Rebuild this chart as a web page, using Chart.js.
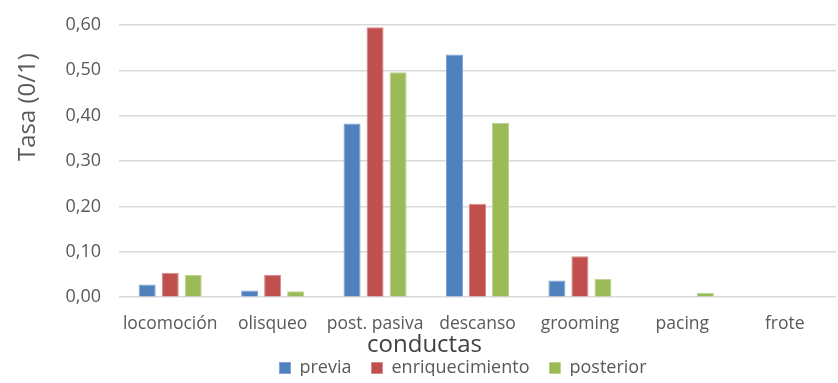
<!DOCTYPE html>
<html>
<head>
<meta charset="utf-8">
<script src="https://cdn.jsdelivr.net/npm/chart.js@4/dist/chart.umd.min.js"></script>
<style>
  html, body { margin: 0; padding: 0; background: #fff; }
  #wrap { width: 838px; height: 383px; }
</style>
</head>
<body>
<div id="wrap"><canvas id="chart"></canvas></div>
<script>
// categorias y series
const conductas = ['locomoción', 'olisqueo', 'post. pasiva', 'descanso', 'grooming', 'pacing', 'frote'];
const previa = [0.028, 0.015, 0.383, 0.535, 0.037, 0, 0];
const enriquecimiento = [0.054, 0.049, 0.595, 0.206, 0.090, 0, 0];
const posterior = [0.049, 0.013, 0.496, 0.384, 0.040, 0.010, 0];
const yTicks = [0, 0.1, 0.2, 0.3, 0.4, 0.5, 0.6];

const FONT = "'Open Sans', 'Noto Sans', sans-serif";
const GREY = '#595959';

function makeSet(label, data, color, edge) {
    return {
        label: label,
        data: data,
        backgroundColor: color,
        borderColor: edge,
        borderWidth: 1,
        categoryPercentage: 0.674,
        barPercentage: 0.74
    };
}

// the legend sits tight under the axis title and a bit right of center
const tightLegend = {
    id: 'tightLegend',
    beforeInit(chart) {
        const legend = chart.legend;
        if (!legend) return;
        const fit = legend.fit;
        legend.fit = function () {
            fit.call(this);
            this.height -= 11;
        };
    },
    afterLayout(chart) {
        const legend = chart.legend;
        if (legend) {
            legend.top -= 7;
            legend.bottom -= 7;
            legend.left += 38;
            legend.right += 38;
        }
        // axis titles are not centred on the plot in the original
        const x = chart.scales.x;
        const y = chart.scales.y;
        if (!x._moved) {
            const drawX = x.drawTitle;
            x.drawTitle = function () {
                const l = this.left;
                this.left -= 106;
                drawX.call(this);
                this.left = l;
            };
            x._moved = true;
        }
        if (!y._moved) {
            const drawY = y.drawTitle;
            y.drawTitle = function () {
                const t = this.top;
                this.top -= 108;
                drawY.call(this);
                this.top = t;
            };
            y._moved = true;
        }
    }
};

async function main() {
    const canvas = document.querySelector('#chart');
    new Chart(canvas.getContext('2d'), {
        type: 'bar',
        data: {
            labels: conductas,
            datasets: [
                makeSet('previa', previa, '#4F81BD', '#7fa3d1'),
                makeSet('enriquecimiento', enriquecimiento, '#C0504D', '#d98a88'),
                makeSet('posterior', posterior, '#9BBB59', '#bcd48d')
            ]
        },
        plugins: [tightLegend],
        options: {
            responsive: true,
            maintainAspectRatio: false,
            animation: false,
            layout: { padding: { top: 8, right: 2, left: 14, bottom: 0 } },
            plugins: {
                tooltip: { enabled: false },
                legend: {
                    position: 'bottom',
                    labels: {
                        boxWidth: 11,
                        boxHeight: 11,
                        padding: 20,
                        color: GREY,
                        font: { family: FONT, size: 18 }
                    }
                }
            },
            scales: {
                x: {
                    grid: { display: false },
                    border: { display: false },
                    ticks: {
                        color: GREY,
                        padding: 8,
                        maxRotation: 0,
                        font: { family: FONT, size: 17.5 }
                    },
                    title: {
                        display: true,
                        text: 'conductas',
                        color: '#404040',
                        padding: { top: -11, bottom: -14 },
                        font: { family: FONT, size: 24 }
                    }
                },
                y: {
                    min: 0,
                    max: 0.6,
                    afterBuildTicks: axis => { axis.ticks = yTicks.map(v => ({ value: v })); },
                    afterFit: axis => {
                        axis.width = 105;
                        axis.paddingTop = 25;
                        axis.paddingBottom = 0;
                    },
                    grid: { color: '#d9d9d9', lineWidth: 1.5, drawTicks: false },
                    border: { display: false },
                    ticks: {
                        color: GREY,
                        padding: 18,
                        font: { family: FONT, size: 18 },
                        callback: v => v.toFixed(2).replace('.', ',')
                    },
                    title: {
                        display: true,
                        text: 'Tasa (0/1)',
                        color: GREY,
                        padding: 0,
                        font: { family: FONT, size: 24 }
                    }
                }
            }
        }
    });
}

main()
</script>
</body>
</html>
